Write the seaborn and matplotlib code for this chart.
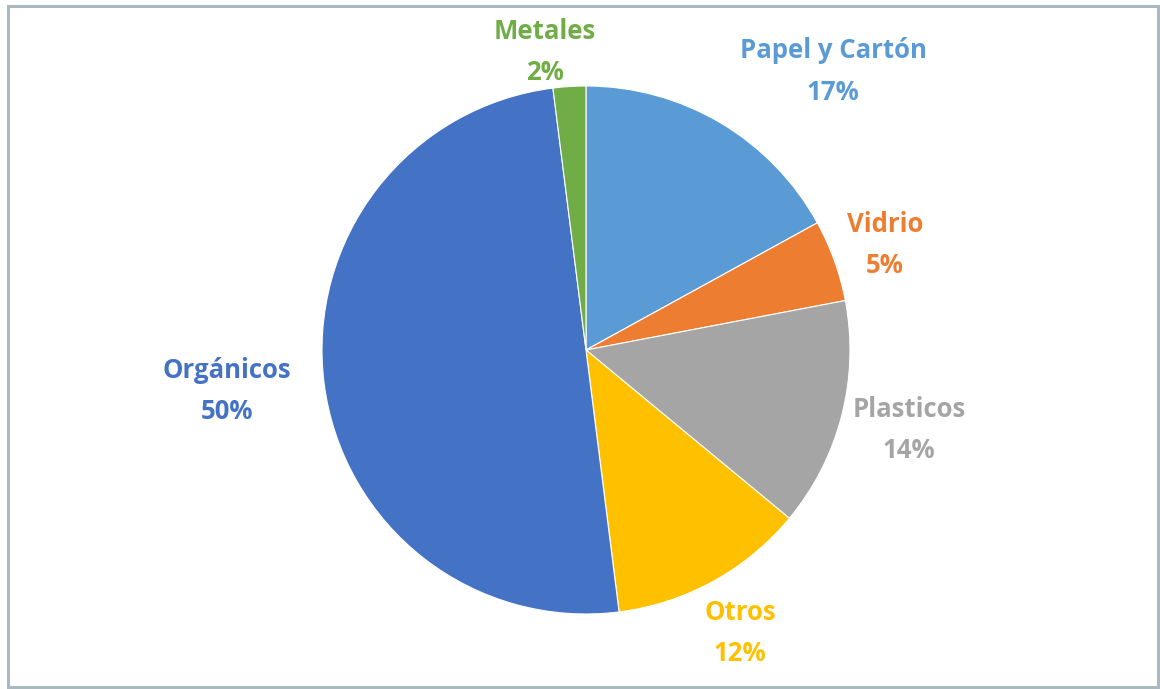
import matplotlib
matplotlib.use("Agg")
import matplotlib.pyplot as plt
import matplotlib.patches as mpatches
import numpy as np
import seaborn as sns

# Composition of waste (percent), clockwise from the top
categories = ["Papel y Cartón", "Vidrio", "Plasticos", "Otros", "Orgánicos", "Metales"]
shares = [17, 5, 14, 12, 50, 2]
colors = ["#5B9BD5", "#ED7D31", "#A5A5A5", "#FFC000", "#4472C4", "#70AD47"]

# label placement: radial distance and angular nudge (degrees) per slice
label_dist = [1.41, 1.20, 1.26, 1.22, 1.37, 1.14]
label_nudge = [-11.0, -0.4, 0.5, -0.2, -0.7, 4.2]

sns.set_theme(style="white")
plt.rcParams["font.family"] = ["Open Sans", "DejaVu Sans"]

W, H = 1160, 689
fig = plt.figure(figsize=(W / 100, H / 100), dpi=100)
ax = fig.add_axes([0, 0, 1, 1])

# 1 data unit = pie radius in pixels
R = 264
cx, cy = 586, 350

wedges, _ = ax.pie(shares, colors=colors, startangle=90, counterclock=False,
                   radius=1.0, center=(0, 0), frame=False,
                   wedgeprops=dict(edgecolor="white", linewidth=0.8))
ax.set_xlim(-cx / R, (W - cx) / R)
ax.set_ylim(-(H - cy) / R, cy / R)
ax.set_aspect("auto")
ax.axis("off")

for w, name, val, d, nudge, col in zip(wedges, categories, shares, label_dist, label_nudge, colors):
    mid = np.deg2rad((w.theta1 + w.theta2) / 2 + nudge)
    x, y = d * np.cos(mid), d * np.sin(mid)
    ax.text(x, y, f"{name}\n{val}%", ha="center", va="center", color=col,
            fontsize=18.5, fontweight="bold", linespacing=1.68)

# outer chart border
fig.patches.append(mpatches.Rectangle((8 / W, 2 / H), 1150 / W, 681 / H,
                                      transform=fig.transFigure, fill=False,
                                      edgecolor="#AAB9C0", linewidth=2.2))

fig.savefig("out.png", dpi=100)
